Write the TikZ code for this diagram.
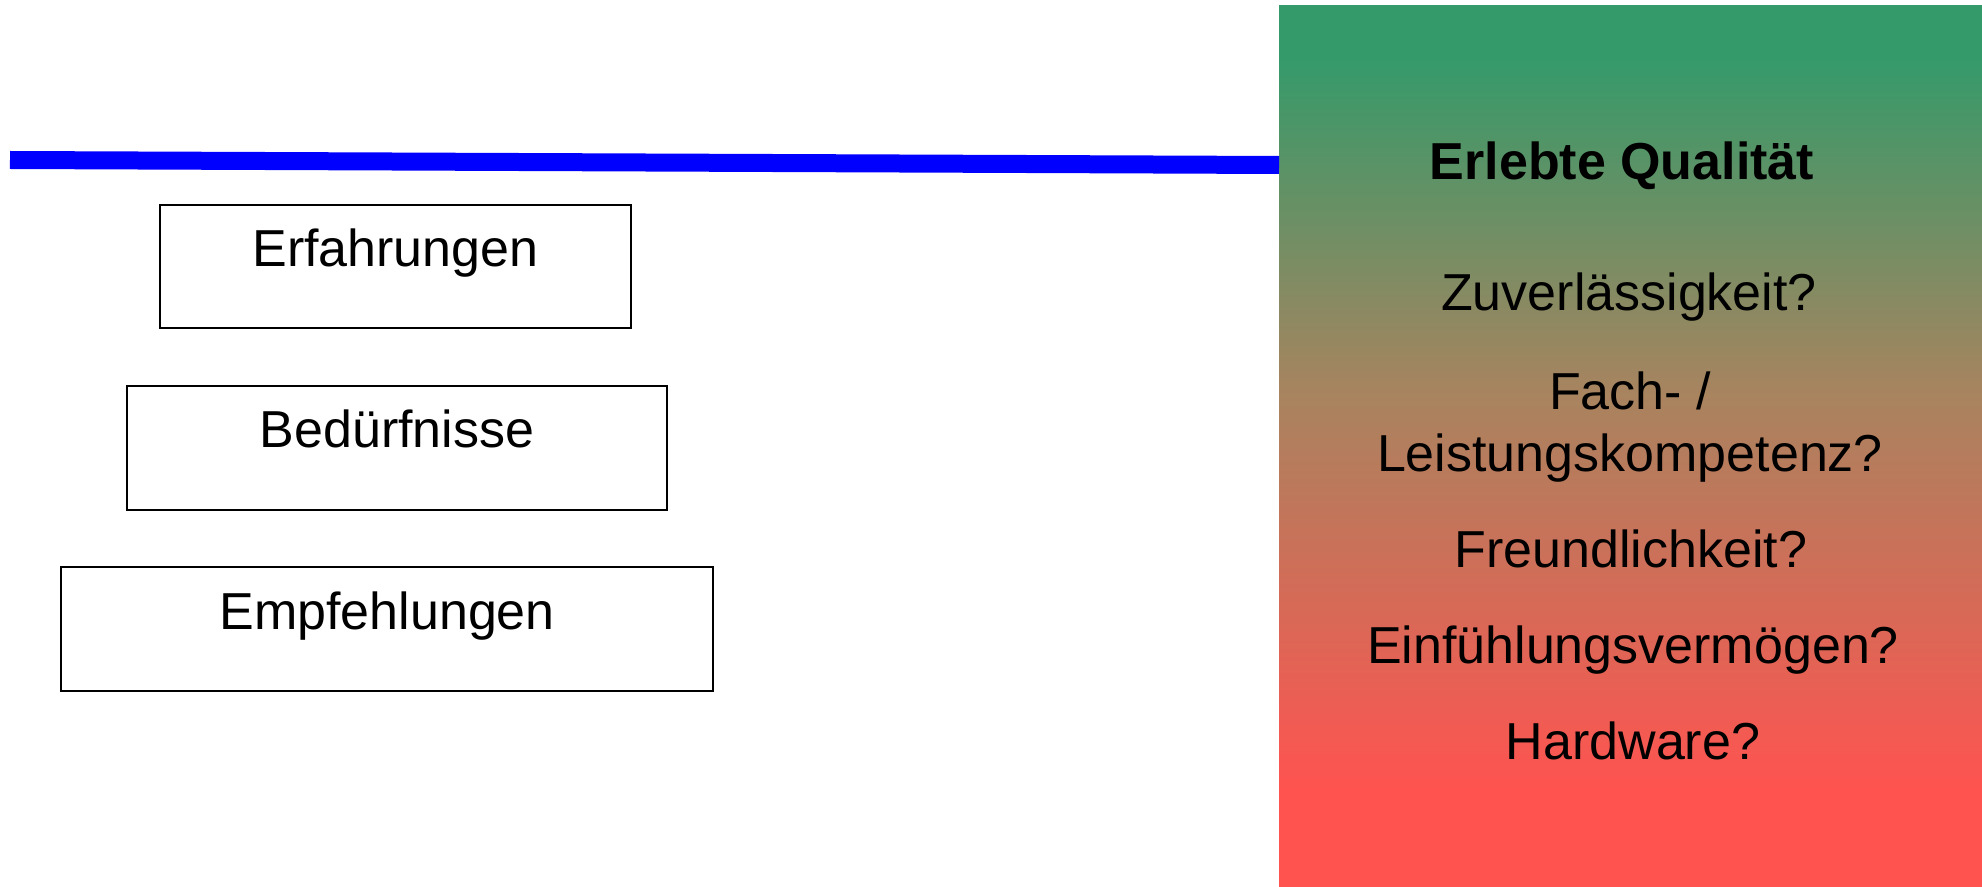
\documentclass[tikz,border=0pt]{standalone}
\usepackage{fontspec}
\setmainfont{Liberation Sans}
\definecolor{topgreen}{RGB}{53,154,106}
\definecolor{midbrown}{RGB}{168,132,95}
\definecolor{botred}{RGB}{255,83,80}
\definecolor{lineblue}{RGB}{0,0,255}
% vertical green-to-red blend; 25bp..75bp spans the filled path
\pgfdeclareverticalshading{qualityblend}{100bp}{%
  color(0bp)=(botred); color(30.5bp)=(botred);
  color(53bp)=(midbrown);
  color(72bp)=(topgreen); color(100bp)=(topgreen)}
\begin{document}
\begin{tikzpicture}[x=0.5pt,y=-0.5pt]
\tikzset{
  factor/.style={draw=black, line width=1pt, inner sep=0pt,
    text height=30.8pt, text depth=31pt, font=\fontsize{26}{31}\selectfont},
  ask/.style={anchor=base, inner sep=0pt, align=center,
    font=\fontsize{26}{31}\selectfont},
}
\useasboundingbox (0,0) rectangle (1982,887);

% quality panel with green-to-red gradient
\shade[shading=qualityblend] (1279,6) rectangle (1982,887);
\coordinate (panelW) at (1279,165);
\coordinate (lineL) at (10,160);

% blue horizon line
\draw[lineblue, line width=9pt] (lineL) -- (panelW);

% expectation factors
\node[factor, minimum width=235.5pt] (erf) at (395.5,266.7) {Erfahrungen};
\node[factor, minimum width=270pt]   (bed) at (397,448)     {Bedürfnisse};
\node[factor, minimum width=325.8pt] (emp) at (387.2,629.2) {Empfehlungen};

% experienced quality
\node[ask, font=\fontsize{26}{31}\selectfont\bfseries] (erl) at (1622,180) {Erlebte Qualität};
\node[ask] (zuv) at (1629,311) {Zuverlässigkeit?};
\node[ask] (fach) at (1630,471.7) {Fach- /\\Leistungskompetenz?};
\node[ask] (fre) at (1631,567.3) {Freundlichkeit?};
\node[ask] (ein) at (1633,663.3) {Einfühlungsvermögen?};
\node[ask] (hw) at (1633,759.3) {Hardware?};
\end{tikzpicture}
\end{document}
